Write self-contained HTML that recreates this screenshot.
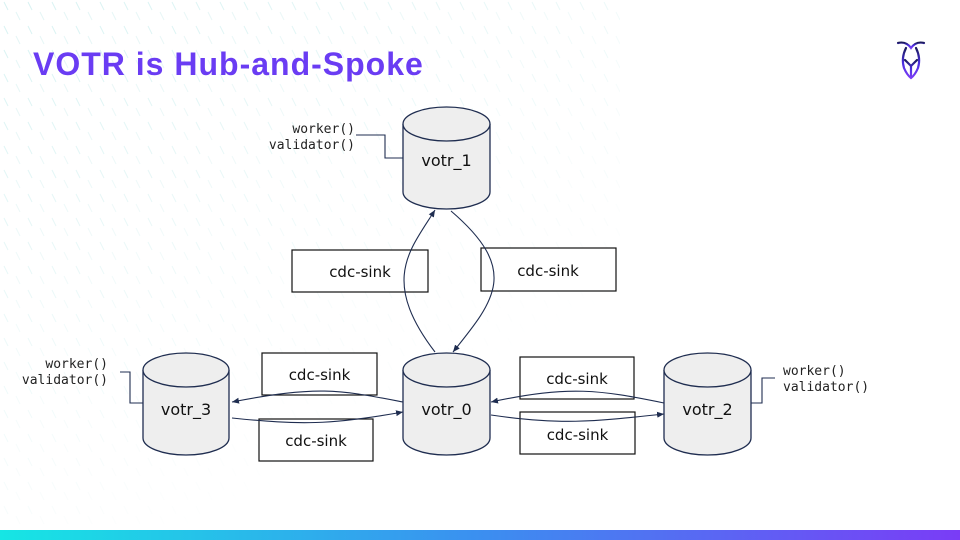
<!DOCTYPE html>
<html><head><meta charset="utf-8"><style>
html,body{margin:0;padding:0;width:960px;height:540px;overflow:hidden;background:#fff}
</style></head><body>
<svg width="960" height="540" viewBox="0 0 960 540" xmlns="http://www.w3.org/2000/svg">
<defs>
<linearGradient id="bar" x1="0" x2="1" y1="0" y2="0">
<stop offset="0" stop-color="#16e6e4"/><stop offset="0.5" stop-color="#3b8ff0"/><stop offset="1" stop-color="#7a3cf6"/>
</linearGradient>
<linearGradient id="lg" x1="0" x2="0" y1="0" y2="1">
<stop offset="0" stop-color="#1a1a5a"/><stop offset="0.5" stop-color="#4a2ee0"/><stop offset="1" stop-color="#7b3cf5"/>
</linearGradient>
<pattern id="dash" width="24" height="24" patternUnits="userSpaceOnUse">
<line x1="4" y1="2" x2="8" y2="10" stroke="#d6f2f2" stroke-width="1"/>
<line x1="16" y1="12" x2="20" y2="20" stroke="#e2f5f5" stroke-width="1"/>
</pattern>
<linearGradient id="fade" x1="0" y1="0" x2="1" y2="1">
<stop offset="0" stop-color="#fff" stop-opacity="0"/><stop offset="0.6" stop-color="#fff" stop-opacity="1"/>
</linearGradient>
<marker id="ah" markerWidth="8" markerHeight="8" refX="7" refY="4" orient="auto" markerUnits="userSpaceOnUse">
<path d="M0,1 L7,4 L0,7 z" fill="#1f2d50"/>
</marker>
</defs>
<rect x="0" y="0" width="620" height="540" fill="url(#dash)"/>
<rect x="0" y="0" width="960" height="540" fill="url(#fade)"/>

<text x="33" y="75" font-family="Liberation Sans, sans-serif" font-weight="bold" font-size="32" letter-spacing="1" fill="#6a3cf3">VOTR is Hub-and-Spoke</text>

<!-- logo -->
<g fill="none" stroke="url(#lg)" stroke-width="2.2" stroke-linecap="round">
<path d="M898,43 Q906,41 911,48 Q916,41 924,43"/>
<path d="M906,48 Q901,58 904,68 Q907,75 911,78 Q915,75 918,68 Q921,58 916,48"/>
<path d="M905,60 L911,66 L917,60 M911,66 L911,77"/>
</g>

<!-- boxes -->
<g fill="#fff" stroke="#111" stroke-width="1.2">
<rect x="292" y="250" width="136" height="42"/>
<rect x="481" y="248" width="135" height="43"/>
<rect x="262" y="353" width="115" height="42"/>
<rect x="259" y="419" width="114" height="42"/>
<rect x="520" y="357" width="114" height="42"/>
<rect x="520" y="412" width="115" height="42"/>
</g>
<g font-family="DejaVu Sans, sans-serif" font-size="15" fill="#111" text-anchor="middle">
<text x="360" y="277">cdc-sink</text>
<text x="548" y="276">cdc-sink</text>
<text x="319.5" y="380">cdc-sink</text>
<text x="316" y="446">cdc-sink</text>
<text x="577" y="384">cdc-sink</text>
<text x="577.5" y="440">cdc-sink</text>
</g>

<!-- connectors -->
<g fill="none" stroke="#1f2d50" stroke-width="1.1">
<path d="M435,352 C380,280 410,250 435,210" marker-end="url(#ah)"/>
<path d="M451,211 C520,270 495,300 453,352" marker-end="url(#ah)"/>
<path d="M403,402 C340,390 320,385 232,402" marker-end="url(#ah)"/>
<path d="M232,418 C300,425 330,425 403,412" marker-end="url(#ah)"/>
<path d="M664,403 C600,390 570,385 491,402" marker-end="url(#ah)"/>
<path d="M491,415 C560,425 590,422 664,414" marker-end="url(#ah)"/>
<path d="M356,135 H385 V158 H403"/>
<path d="M120,372 H130 V403 H143"/>
<path d="M751,403 H762 V378 H775"/>
</g>

<!-- cylinders -->
<g stroke="#1f2d50" stroke-width="1.3" fill="#eeeeee">
<path d="M403,124 V192 A43.5,17 0 0 0 490,192 V124"/>
<ellipse cx="446.5" cy="124" rx="43.5" ry="17"/>
<path d="M403,370 V438 A43.5,17 0 0 0 490,438 V370"/>
<ellipse cx="446.5" cy="370" rx="43.5" ry="17"/>
<path d="M143,370 V438 A43,17 0 0 0 229,438 V370"/>
<ellipse cx="186" cy="370" rx="43" ry="17"/>
<path d="M664,370 V438 A43.5,17 0 0 0 751,438 V370"/>
<ellipse cx="707.5" cy="370" rx="43.5" ry="17"/>
</g>
<g font-family="DejaVu Sans, sans-serif" font-size="16" fill="#111" text-anchor="middle">
<text x="446.5" y="166">votr_1</text>
<text x="446.5" y="415">votr_0</text>
<text x="186" y="415">votr_3</text>
<text x="707.5" y="415">votr_2</text>
</g>

<g font-family="DejaVu Sans Mono, Liberation Mono, monospace" font-size="13" fill="#222">
<text x="355" y="133" text-anchor="end">worker()</text>
<text x="355" y="149" text-anchor="end">validator()</text>
<text x="108" y="368" text-anchor="end">worker()</text>
<text x="108" y="384" text-anchor="end">validator()</text>
<text x="783" y="375">worker()</text>
<text x="783" y="391">validator()</text>
</g>

<rect x="0" y="530" width="960" height="10" fill="url(#bar)"/>
</svg>
</body></html>
